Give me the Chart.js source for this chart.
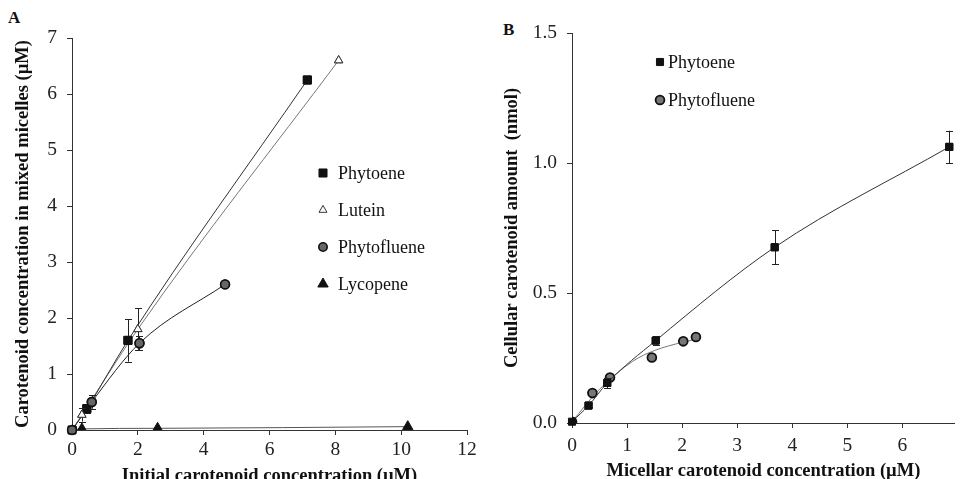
<!DOCTYPE html>
<html lang="en">
<head>
<meta charset="UTF-8">
<title>Carotenoid micellarization and cellular uptake</title>
<script src="https://cdn.jsdelivr.net/npm/chart.js"></script>
<style>
  body { margin: 0; width: 961px; height: 479px; overflow: hidden; background: #fff; position: relative; }
  .panel { position: absolute; top: 0; height: 490px; }
  #panelA { left: 0; width: 480px; }
  #panelB { left: 480px; width: 481px; }
  .tag { position: absolute; font: bold 17px 'Liberation Serif', serif; color: #111; }
</style>
</head>
<body>
<div class="tag" style="left:8px; top:8px;">A</div>
<div class="tag" style="left:503px; top:20px;">B</div>
<div class="panel" id="panelA"><canvas id="chartA"></canvas></div>
<div class="panel" id="panelB"><canvas id="chartB"></canvas></div>

<script>
// ---- Panel A: carotenoid in mixed micelles vs initial concentration (uM)
const phytoeneA_x = [0, 0.45, 1.7, 7.15];
const phytoeneA_y = [0, 0.38, 1.6, 6.25];
const phytoeneA_err = [0, 0.08, 0.38, 0];
const luteinA_x = [0, 0.3, 2.0, 8.1];
const luteinA_y = [0, 0.27, 1.8, 6.6];
const luteinA_err = [0, 0.12, 0.37, 0];
const phytoflueneA_x = [0, 0.6, 2.05, 4.65];
const phytoflueneA_y = [0, 0.5, 1.55, 2.6];
const phytoflueneA_err = [0, 0.12, 0.13, 0];
const lycopeneA_x = [0, 0.3, 2.6, 10.2];
const lycopeneA_y = [0, 0.02, 0.03, 0.06];

// ---- Panel B: cellular carotenoid amount (nmol) vs micellar concentration (uM)
const phytoeneB_x = [0, 0.3, 0.64, 1.52, 3.68, 6.85];
const phytoeneB_y = [0.005, 0.067, 0.154, 0.317, 0.676, 1.062];
const phytoeneB_err = [0, 0.006, 0.02, 0.016, 0.065, 0.062];
const phytoflueneB_x = [0, 0.37, 0.69, 1.45, 2.02, 2.25];
const phytoflueneB_y = [0.005, 0.115, 0.175, 0.252, 0.314, 0.331];
// fitted trend for phytofluene
const phytoflueneFitB_x = [0, 0.5, 1.1, 1.5, 2.0, 2.25];
const phytoflueneFitB_y = [0.005, 0.13, 0.237, 0.279, 0.31, 0.322];

const xTicksA = [0, 2, 4, 6, 8, 10, 12];
const yTicksA = [0, 1, 2, 3, 4, 5, 6, 7];
const xTicksB = [0, 1, 2, 3, 4, 5, 6];
const yTicksB = [0, 0.5, 1.0, 1.5];

const serif = "'Liberation Serif', 'Times New Roman', serif";

function pts(xs, ys) {
  return xs.map((x, i) => ({ x: x, y: ys[i] }));
}

function drawMarker(ctx, shape, x, y, r, fill, stroke, lw) {
  ctx.beginPath();
  if (shape === 'rect') {
    const h = r * Math.SQRT1_2;
    ctx.rect(x - h, y - h, 2 * h, 2 * h);
  } else if (shape === 'circle') {
    ctx.arc(x, y, r, 0, Math.PI * 2);
  } else {
    let a = 0;
    ctx.moveTo(x + Math.sin(a) * r, y - Math.cos(a) * r);
    a += Math.PI * 2 / 3;
    ctx.lineTo(x + Math.sin(a) * r, y - Math.cos(a) * r);
    a += Math.PI * 2 / 3;
    ctx.lineTo(x + Math.sin(a) * r, y - Math.cos(a) * r);
    ctx.closePath();
  }
  ctx.fillStyle = fill;
  ctx.fill();
  ctx.lineWidth = lw;
  ctx.strokeStyle = stroke;
  ctx.stroke();
}

// vertical error bars with caps, markers redrawn on top
const errorBars = {
  id: 'errorBars',
  afterDatasetsDraw(chart) {
    const ctx = chart.ctx;
    const ys = chart.scales.y;
    chart.data.datasets.forEach((ds, i) => {
      if (!ds.errors) return;
      const meta = chart.getDatasetMeta(i);
      ctx.save();
      ctx.strokeStyle = '#222';
      ctx.lineWidth = 1;
      meta.data.forEach((pt, j) => {
        const e = ds.errors[j];
        if (!e) return;
        const v = ds.data[j].y;
        const top = ys.getPixelForValue(v + e);
        const bot = ys.getPixelForValue(v - e);
        const x = Math.round(pt.x) + 0.5;
        ctx.beginPath();
        ctx.moveTo(x, top); ctx.lineTo(x, bot);
        ctx.moveTo(x - 3.5, Math.round(top) + 0.5); ctx.lineTo(x + 3.5, Math.round(top) + 0.5);
        ctx.moveTo(x - 3.5, Math.round(bot) + 0.5); ctx.lineTo(x + 3.5, Math.round(bot) + 0.5);
        ctx.stroke();
      });
      ctx.restore();
      meta.data.forEach((pt) => {
        drawMarker(ctx, ds.pointStyle, pt.x, pt.y, ds.pointRadius,
          ds.pointBackgroundColor, ds.pointBorderColor, ds.pointBorderWidth);
      });
    });
  }
};

const markerLegend = {
  id: 'markerLegend',
  afterDraw(chart, args, opts) {
    const ctx = chart.ctx;
    ctx.save();
    ctx.font = '18px ' + serif;
    ctx.textBaseline = 'middle';
    opts.items.forEach((idx, i) => {
      const ds = chart.data.datasets[idx];
      const y = opts.y + i * opts.gap;
      drawMarker(ctx, ds.pointStyle, opts.x, y, opts.radius[i],
        ds.pointBackgroundColor, ds.pointBorderColor, ds.pointBorderWidth);
      ctx.fillStyle = '#111';
      ctx.fillText(ds.label, opts.x + opts.textOffset, y + 1);
    });
    ctx.restore();
  }
};

function series(label, xs, ys, errs, shape, r, fill, border, line, bw) {
  return {
    label: label,
    data: pts(xs, ys),
    errors: errs,
    showLine: true,
    borderColor: line,
    borderWidth: 1,
    cubicInterpolationMode: 'monotone',
    pointStyle: shape,
    pointRadius: r,
    pointHoverRadius: r,
    pointBackgroundColor: fill,
    pointBorderColor: border,
    pointBorderWidth: bw
  };
}

function axis(min, max, ticks, title, opts) {
  return {
    type: 'linear',
    min: min,
    max: max,
    afterBuildTicks: s => { s.ticks = ticks.map(v => ({ value: v })); },
    afterFit: opts.fit,
    border: { color: '#333', width: 1 },
    grid: { drawOnChartArea: false, drawTicks: true, tickLength: 5, tickColor: '#333' },
    ticks: {
      color: '#222',
      font: { family: serif, size: 19.5 },
      padding: opts.tickPad,
      maxRotation: 0,
      autoSkip: false,
      callback: opts.fmt || (v => v)
    },
    title: {
      display: true,
      text: title,
      color: '#111',
      font: { family: serif, size: 18.5, weight: 'bold' },
      padding: opts.titlePad
    }
  };
}

new Chart(document.getElementById('chartA'), {
  type: 'scatter',
  data: {
    datasets: [
      series('Phytoene', phytoeneA_x, phytoeneA_y, phytoeneA_err, 'rect', 5.7, '#111', '#111', '#333', 1),
      series('Lutein', luteinA_x, luteinA_y, luteinA_err, 'triangle', 4.8, '#fff', '#333', '#777', 1),
      series('Phytofluene', phytoflueneA_x, phytoflueneA_y, phytoflueneA_err, 'circle', 4.4, '#666', '#111', '#222', 1.6),
      series('Lycopene', lycopeneA_x, lycopeneA_y, null, 'triangle', 6, '#111', '#111', '#555', 1)
    ]
  },
  options: {
    responsive: true,
    maintainAspectRatio: false,
    animation: false,
    events: [],
    layout: { padding: { top: 38, right: 13, left: 0, bottom: 0 } },
    scales: {
      x: axis(0, 12, xTicksA, 'Initial carotenoid concentration (\u00b5M)',
        { fit: s => { s.height = 60; }, tickPad: 3, titlePad: { top: 0, bottom: 3 } }),
      y: axis(0, 7, yTicksA, 'Carotenoid concentration in mixed micelles (\u00b5M)',
        { fit: s => { s.width = 72; }, tickPad: 10, titlePad: { top: 12, bottom: 0 } })
    },
    plugins: {
      legend: { display: false },
      tooltip: { enabled: false },
      markerLegend: { x: 323, y: 173, gap: 37, textOffset: 15, items: [0, 1, 2, 3], radius: [5.7, 4.6, 4.2, 6] }
    }
  },
  plugins: [errorBars, markerLegend]
});

new Chart(document.getElementById('chartB'), {
  type: 'scatter',
  data: {
    datasets: [
      series('Phytoene', phytoeneB_x, phytoeneB_y, phytoeneB_err, 'rect', 5, '#111', '#111', '#333', 1),
      series('Phytofluene', phytoflueneB_x, phytoflueneB_y, null, 'circle', 4.4, '#777', '#111', 'rgba(0,0,0,0)', 1.8),
      {
        label: 'Phytofluene fit',
        data: pts(phytoflueneFitB_x, phytoflueneFitB_y),
        showLine: true,
        borderColor: '#777',
        borderWidth: 1,
        cubicInterpolationMode: 'monotone',
        pointRadius: 0
      }
    ]
  },
  options: {
    responsive: true,
    maintainAspectRatio: false,
    animation: false,
    events: [],
    layout: { padding: { top: 33, right: 0, left: 0, bottom: 0 } },
    scales: {
      x: axis(0, 6.95, xTicksB, 'Micellar carotenoid concentration (\u00b5M)',
        { fit: s => { s.height = 67; }, tickPad: 6, titlePad: { top: 0, bottom: 8 } }),
      y: axis(0, 1.5, yTicksB, 'Cellular carotenoid amount  (nmol)',
        { fit: s => { s.width = 92; }, tickPad: 10, titlePad: { top: 21, bottom: 0 }, fmt: v => v.toFixed(1) })
    },
    plugins: {
      legend: { display: false },
      tooltip: { enabled: false },
      markerLegend: { x: 180, y: 62, gap: 38, textOffset: 8, items: [0, 1], radius: [5, 4.4] }
    }
  },
  plugins: [errorBars, markerLegend]
});
</script>
</body>
</html>
